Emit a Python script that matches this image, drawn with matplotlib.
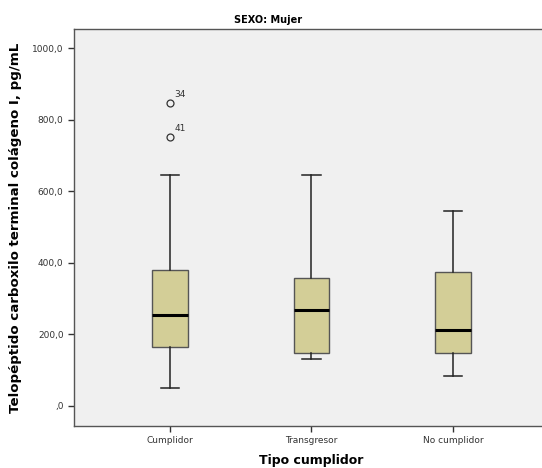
import matplotlib
matplotlib.use("Agg")
import matplotlib.pyplot as plt

# valores (SPSS, SEXO: Mujer)
categorias = ["Cumplidor", "Transgresor", "No cumplidor"]
bigote_inf = [50, 131, 84]
q1 = [165, 148, 148]
mediana = [255, 268, 213]
q3 = [380, 358, 375]
bigote_sup = [646, 646, 545]
atipicos = [[848, 752], [], []]
etiquetas_atipicos = [["34", "41"], [], []]

yticks = [0, 200, 400, 600, 800, 1000]
ytick_labels = [",0", "200,0", "400,0", "600,0", "800,0", "1000,0"]

plt.rcParams["font.family"] = "DejaVu Sans"

fig = plt.figure(figsize=(5.42, 4.68), dpi=100)
ax = fig.add_axes([0.1365, 0.0897, 0.8764, 0.8483])
ax.set_facecolor("#f0f0f0")

stats = []
for i in range(len(categorias)):
    stats.append({
        "whislo": bigote_inf[i], "q1": q1[i], "med": mediana[i],
        "q3": q3[i], "whishi": bigote_sup[i], "fliers": atipicos[i],
    })

pos = [1, 2, 3]
ax.bxp(stats, positions=pos, widths=0.25, capwidths=0.13, patch_artist=True,
       boxprops=dict(facecolor="#d3ce97", edgecolor="#555555", linewidth=1.0),
       medianprops=dict(color="black", linewidth=2.2),
       whiskerprops=dict(color="#222222", linewidth=1.1),
       capprops=dict(color="#222222", linewidth=1.1),
       flierprops=dict(marker="o", markersize=5, markerfacecolor="none",
                       markeredgecolor="#333333", markeredgewidth=0.9))

for i in range(len(categorias)):
    for v, lab in zip(atipicos[i], etiquetas_atipicos[i]):
        ax.annotate(lab, (pos[i], v), xytext=(3, 4), textcoords="offset points",
                    fontsize=6.5, color="#333333")

ax.set_xlim(0.32, 3.68)
ax.set_ylim(-56, 1054)
ax.set_yticks(yticks)
ax.set_yticklabels(ytick_labels)
ax.set_xticks(pos)
ax.set_xticklabels(categorias)
ax.tick_params(axis="both", labelsize=6.5, labelcolor="#333333", color="#333333",
               length=4, width=1, direction="out")
for s in ["left", "bottom", "top", "right"]:
    ax.spines[s].set_color("#555555")
    ax.spines[s].set_linewidth(1.0)

ax.set_ylabel("Telopéptido carboxilo terminal colágeno I, pg/mL",
              fontsize=9.6, fontweight="bold")
ax.yaxis.set_label_coords(-0.11, 0.5)
ax.set_xlabel("Tipo cumplidor", fontsize=9, fontweight="bold")
ax.xaxis.set_label_coords(0.5, -0.07)
fig.text(0.495, 0.957, "SEXO: Mujer", ha="center", va="center",
         fontsize=7, fontweight="bold")

fig.savefig("out.png", dpi=100, facecolor="white")
